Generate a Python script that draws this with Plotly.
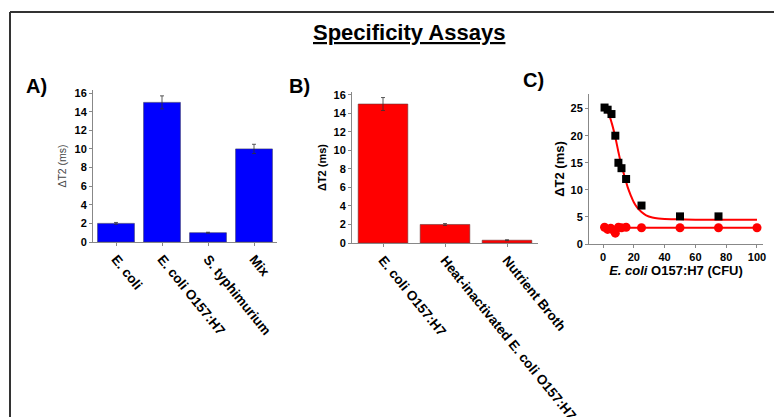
import plotly.graph_objects as go

W, H = 774, 417

# ---- data ----
a_cats = ["E. coli", "E. coli O157:H7", "S. typhimurium", "Mix"]
a_vals = [2.0, 15.0, 1.0, 10.0]
a_err = [0.1, 0.7, 0.05, 0.5]

b_cats = ["E. coli O157:H7", "Heat-inactivated E. coli O157:H7", "Nutrient Broth"]
b_vals = [15.0, 2.0, 0.3]
b_err = [0.7, 0.1, 0.05]

c_sq_x = [1, 3, 5.5, 8, 10, 12, 15, 25, 50, 75]
c_sq_y = [25.2, 24.8, 24.0, 20.0, 15.0, 14.0, 12.0, 7.1, 5.1, 5.1]

c_ci_x = [1, 3, 5, 7, 8, 10, 12, 15, 25, 50, 75, 100]
c_ci_y = [3.1, 2.7, 2.9, 2.5, 2.0, 3.1, 3.0, 3.1, 3.0, 3.0, 3.0, 3.0]

fit_x = [0, 2, 4, 6, 8, 10, 12, 14, 16, 18, 20, 22, 25, 28, 32, 36, 40, 50, 60, 80, 100]
fit_y = [25.7, 25.0, 23.8, 22.0, 19.7, 17.0, 14.5, 12.5, 10.5, 9.0, 7.7, 6.8, 5.9, 5.3, 4.9, 4.7, 4.6, 4.55, 4.5, 4.5, 4.5]

line_x = [0, 100]
line_y = [3.0, 3.0]

FONT = "Arial, Liberation Sans, sans-serif"


def px_x(p):
    return p / W


def px_y(p):
    return 1 - p / H


fig = go.Figure()

fig.add_trace(go.Bar(x=a_cats, y=a_vals, xaxis="x", yaxis="y",
                     marker=dict(color="#0000ff", line=dict(color="#333366", width=0.6)),
                     error_y=dict(type="data", array=a_err, color="#333333", thickness=0.8, width=2),
                     showlegend=False))
fig.add_trace(go.Bar(x=b_cats, y=b_vals, xaxis="x2", yaxis="y2",
                     marker=dict(color="#ff0000", line=dict(color="#663333", width=0.6)),
                     error_y=dict(type="data", array=b_err, color="#333333", thickness=0.8, width=2),
                     showlegend=False))

fig.add_trace(go.Scatter(x=fit_x, y=fit_y, xaxis="x3", yaxis="y3", mode="lines",
                         line=dict(color="#ff0000", width=2, shape="spline"), showlegend=False))
fig.add_trace(go.Scatter(x=line_x, y=line_y, xaxis="x3", yaxis="y3", mode="lines",
                         line=dict(color="#ff0000", width=2), showlegend=False))
fig.add_trace(go.Scatter(x=c_sq_x, y=c_sq_y, xaxis="x3", yaxis="y3", mode="markers",
                         marker=dict(symbol="square", color="#000000", size=8), showlegend=False))
fig.add_trace(go.Scatter(x=c_ci_x, y=c_ci_y, xaxis="x3", yaxis="y3", mode="markers",
                         marker=dict(symbol="circle", color="#ff0000", size=9), showlegend=False))

tickfont = dict(family=FONT, size=11, color="#000000", weight="bold")
catfont = dict(family=FONT, size=13.5, color="#000000", weight="bold")
axis_common = dict(showline=True, linecolor="#888888", linewidth=1, ticks="outside",
                   ticklen=3, tickcolor="#888888", showgrid=False, zeroline=False,
                   automargin=False)

fig.update_layout(
    template="none",
    width=W, height=H,
    margin=dict(l=0, r=0, t=0, b=0, pad=0),
    paper_bgcolor="white", plot_bgcolor="white",
    bargap=0.2,
    font=dict(family=FONT, color="#000000"),
    xaxis=dict(domain=[px_x(93), px_x(277)], anchor="y", range=[-0.5, 3.5],
               tickangle=51, tickfont=catfont, **axis_common),
    yaxis=dict(domain=[px_y(242), px_y(90)], anchor="x", range=[0, 16.33], dtick=2,
               tickfont=tickfont,
               title=dict(text="ΔT2 (ms)", font=dict(family=FONT, size=10.5, color="#444444"), standoff=5),
               **axis_common),
    xaxis2=dict(domain=[px_x(352), px_x(538)], anchor="y2", range=[-0.5, 2.5],
                tickangle=51, tickfont=catfont, **axis_common),
    yaxis2=dict(domain=[px_y(243), px_y(92)], anchor="x2", range=[0, 16.3], dtick=2,
                tickfont=tickfont,
                title=dict(text="ΔT2 (ms)", font=dict(family=FONT, size=11, weight="bold"), standoff=4),
                **axis_common),
    xaxis3=dict(domain=[px_x(589), px_x(763)], anchor="y3", range=[-9.1, 103.9], dtick=20,
                tickfont=tickfont,
                title=dict(text="<i>E. coli</i> O157:H7 (CFU)", font=dict(family=FONT, size=13, weight="bold"), standoff=3),
                **axis_common),
    yaxis3=dict(domain=[px_y(244), px_y(94)], anchor="x3", range=[0, 27.7], dtick=5,
                tickfont=tickfont,
                title=dict(text="ΔT2 (ms)", font=dict(family=FONT, size=13, weight="bold"), standoff=2),
                **axis_common),
    shapes=[
        dict(type="line", xref="paper", yref="paper", x0=px_x(10), x1=1, y0=px_y(12), y1=px_y(12),
             line=dict(color="#333333", width=2)),
        dict(type="line", xref="paper", yref="paper", x0=px_x(10), x1=px_x(10), y0=px_y(12), y1=0,
             line=dict(color="#333333", width=2)),
    ],
    annotations=[
        dict(text="<b><u>Specificity Assays</u></b>", x=px_x(409), y=px_y(33), xref="paper", yref="paper",
             xanchor="center", yanchor="middle",
             showarrow=False, font=dict(family=FONT, size=22, color="#000000")),
        dict(text="<b>A)</b>", x=px_x(36), y=px_y(86), xref="paper", yref="paper",
             xanchor="center", yanchor="middle",
             showarrow=False, font=dict(family=FONT, size=20, color="#000000")),
        dict(text="<b>B)</b>", x=px_x(299), y=px_y(86), xref="paper", yref="paper",
             xanchor="center", yanchor="middle",
             showarrow=False, font=dict(family=FONT, size=20, color="#000000")),
        dict(text="<b>C)</b>", x=px_x(533), y=px_y(80), xref="paper", yref="paper",
             xanchor="center", yanchor="middle",
             showarrow=False, font=dict(family=FONT, size=20, color="#000000")),
    ],
)

fig.write_html(
    "out.html",
    config={"displayModeBar": False},
    post_script="document.body.style.margin='0';document.body.style.overflow='hidden';"
                "document.documentElement.style.overflow='hidden';",
)
